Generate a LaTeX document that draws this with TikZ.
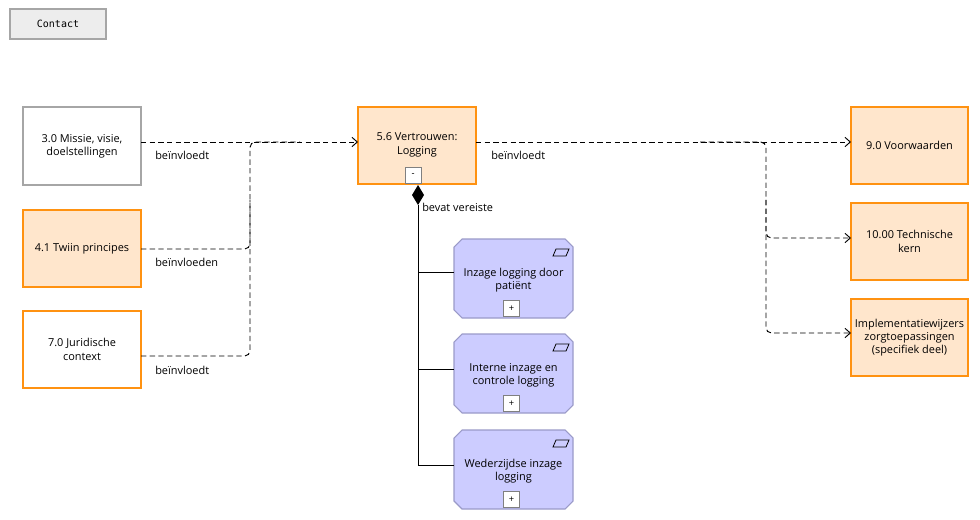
\documentclass[tikz,border=0pt]{standalone}
\usepackage{fontspec}
\setmainfont{Open Sans}
\newfontfamily\monof{DejaVu Sans Mono}
\usetikzlibrary{arrows.meta,shapes.geometric}
\definecolor{orfill}{HTML}{FFE6CC}
\definecolor{orline}{HTML}{FF9211}
\definecolor{pufill}{HTML}{CCCCFF}
\definecolor{puline}{HTML}{9A9AC8}
\begin{document}
\begin{tikzpicture}[x=0.75pt,y=-0.75pt,
  txt/.style={font=\fontsize{8.2}{10}\selectfont,align=center},
  box/.style={draw,line width=1.5pt,txt},
  obox/.style={box,draw=orline,fill=orfill},
  conn/.style={dashed,dash pattern=on 4pt off 2.5pt,line width=0.7pt,rounded corners=4pt},
  arr/.style={conn,-{Straight Barb[length=4pt,width=7pt]}},
  lbl/.style={font=\fontsize{8.2}{10}\selectfont,anchor=west,inner sep=0pt},
  tog/.style={draw=gray,fill=white,line width=0.4pt,minimum width=12pt,minimum height=12pt,inner sep=0pt,font=\fontsize{7}{8}\selectfont}]
\useasboundingbox (0,0) rectangle (980,520);
% contact
\node[draw=black!35,fill=black!7,line width=0.8pt,minimum width=72pt,minimum height=22.5pt,font=\monof\fontsize{7.5}{9}\selectfont] (contact) at (58,24) {Contact};
% left boxes
\draw[line width=0.8pt,draw=black!35] (23,107) rectangle (141,185);
\node[txt] (m30) at (82,146) {3.0 Missie, visie,\\doelstellingen};
\draw[obox] (23,210) rectangle (141,287);
\node[txt] (m41) at (82,248.5) {4.1 Twiin principes};
\draw[box,draw=orline] (23,311) rectangle (141,388);
\node[txt] (m70) at (82,349.5) {7.0 Juridische\\context};
% central
\draw[obox] (358,107) rectangle (476,184);
\node[txt] (m56) at (417,145) {5.6 Vertrouwen:\\Logging};
\node[tog] (t56) at (413,175.5) {-};
% right
\draw[obox] (851,107) rectangle (968,184);
\node[txt] (m90) at (909.5,145.5) {9.0 Voorwaarden};
\draw[obox] (851,203) rectangle (968,280);
\node[txt] (m100) at (909.5,241.5) {10.00 Technische\\kern};
\draw[obox] (851,299) rectangle (968,376);
\node[txt] (mimp) at (909.5,337.5) {Implementatiewijzers\\zorgtoepassingen\\(specifiek deel)};
% purple
\foreach \y/\t/\n in {239/{Inzage logging door\\patiënt}/p1,334/{Interne inzage en\\controle logging}/p2,430/{Wederzijdse inzage\\logging}/p3}{
  \draw[fill=pufill,draw=puline,line width=0.8pt] (462,\y) -- (565,\y) -- (573,\y+8) -- (573,\y+71) -- (565,\y+79) -- (462,\y+79) -- (454,\y+71) -- (454,\y+8) -- cycle;
  \node[txt] (\n) at (513.5,\y+41) {\t};
  \node[tog] at (511.5,\y+69.5) {+};
  \draw[line width=0.6pt] (553,\y+17) -- (566,\y+17) -- (569,\y+10) -- (556,\y+10) -- cycle;
}
% connectors left
\draw[arr] (141,142) -- (358,142);
\draw[conn] (141,249) -- (250,249) -- (250,142) -- (300,142);
\draw[conn] (141,356) -- (250,356) -- (250,200);
\node[lbl] at (155,155) {beïnvloedt};
\node[lbl] at (155,262) {beïnvloeden};
\node[lbl] at (155,370) {beïnvloedt};
% connectors right
\draw[arr] (476,142) -- (851,142);
\draw[arr] (700,142) -- (766,142) -- (766,238) -- (851,238);
\draw[arr] (766,200) -- (766,333) -- (851,333);
\node[lbl] at (491,155) {beïnvloedt};
% composition
\draw[line width=0.7pt] (418,205) -- (418,465) -- (454,465);
\draw[line width=0.7pt] (418,272) -- (454,272);
\draw[line width=0.7pt] (418,369) -- (454,369);
\fill (418,185) -- (424,195) -- (418,205) -- (412,195) -- cycle;
\node[lbl] at (422,207) {bevat vereiste};
\end{tikzpicture}
\end{document}
